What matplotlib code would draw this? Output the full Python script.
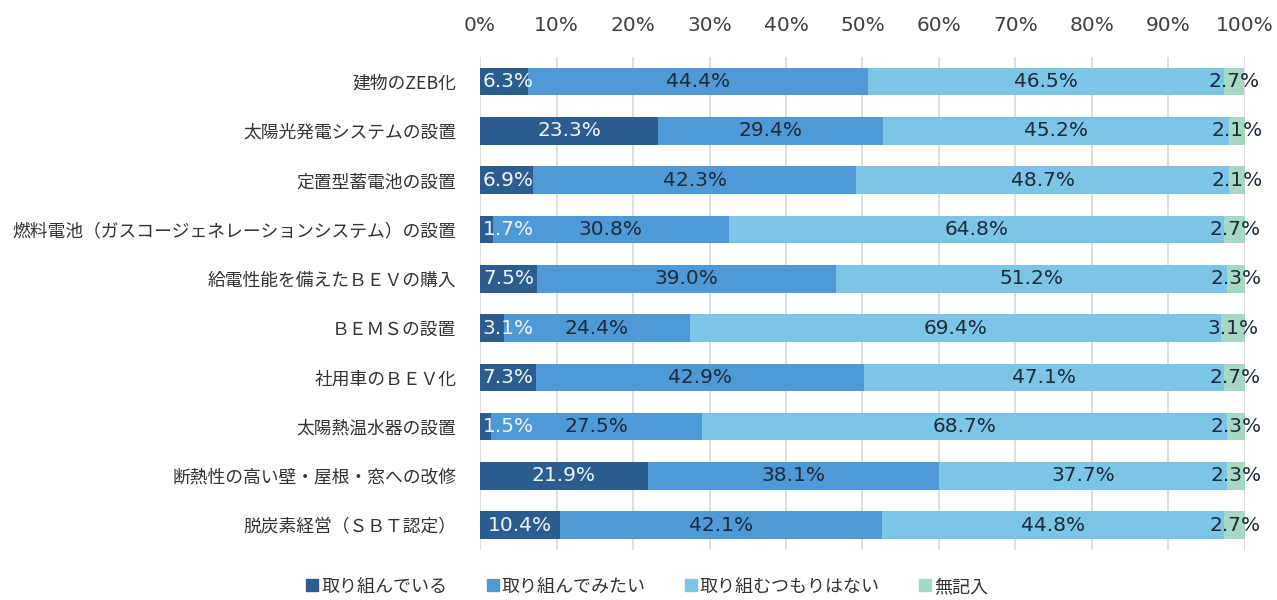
import matplotlib
matplotlib.use("Agg")
import matplotlib.pyplot as plt
from matplotlib.lines import Line2D

plt.rcParams['font.family'] = ['Noto Sans CJK JP', 'DejaVu Sans']

categories = [
    "建物のZEB化",
    "太陽光発電システムの設置",
    "定置型蓄電池の設置",
    "燃料電池（ガスコージェネレーションシステム）の設置",
    "給電性能を備えたＢＥＶの購入",
    "ＢＥＭＳの設置",
    "社用車のＢＥＶ化",
    "太陽熱温水器の設置",
    "断熱性の高い壁・屋根・窓への改修",
    "脱炭素経営（ＳＢＴ認定）",
]
series_names = ["取り組んでいる", "取り組んでみたい", "取り組むつもりはない", "無記入"]
doing = [6.3, 23.3, 6.9, 1.7, 7.5, 3.1, 7.3, 1.5, 21.9, 10.4]
want = [44.4, 29.4, 42.3, 30.8, 39.0, 24.4, 42.9, 27.5, 38.1, 42.1]
no_plan = [46.5, 45.2, 48.7, 64.8, 51.2, 69.4, 47.1, 68.7, 37.7, 44.8]
blank = [2.7, 2.1, 2.1, 2.7, 2.3, 3.1, 2.7, 2.3, 2.3, 2.7]
xticks = list(range(0, 101, 10))
xtick_labels = [f"{t}%" for t in xticks]

colors = ["#2C5D8F", "#4F9AD6", "#7CC5E6", "#A6D8C4"]
label_colors = ["#EEF4FA", "#1C2B3C", "#1C2B3C", "#1C2B3C"]
num_font = ['DejaVu Sans']

fig = plt.figure(figsize=(12.77, 6.0), dpi=100)
ax = fig.add_axes([0.3759, 0.0835, 0.599, 0.8215])

ys = list(range(len(categories)))
left = [0.0] * len(categories)
for si, vals in enumerate([doing, want, no_plan, blank]):
    ax.barh(ys, vals, left=left, height=0.56, color=colors[si], zorder=2)
    for i, v in enumerate(vals):
        txt = f"{v:.1f}%"
        cx = left[i] + v / 2
        ha = 'center'
        if si == 0 and v / 2 < 3.5:
            cx = 0.3
            ha = 'left'
        ax.text(cx, i, txt, ha=ha, va='center', fontsize=14.5, family=num_font,
                color=label_colors[si], zorder=3, clip_on=False)
    left = [l + v for l, v in zip(left, vals)]

ax.set_xlim(0, 100)
ax.set_ylim(len(categories) - 0.5, -0.5)
ax.set_yticks(ys)
ax.set_yticklabels(categories, fontsize=12.8, color="#333333")
ax.set_xticks(xticks)
ax.set_xticklabels(xtick_labels, fontsize=14.5, color="#404040", family=num_font)
ax.xaxis.tick_top()
ax.tick_params(axis='x', length=0, pad=16)
ax.tick_params(axis='y', length=0, pad=17)
ax.grid(axis='x', color="#D9D9D9", linewidth=1.2, zorder=0)
ax.set_axisbelow(True)
for s in ax.spines.values():
    s.set_visible(False)

handles = [Line2D([0], [0], marker='s', linestyle='none', markersize=8,
                  markerfacecolor=c, markeredgecolor=c) for c in colors]
fig.legend(handles, series_names, loc='center', bbox_to_anchor=(0.507, 0.022),
           ncol=4, frameon=False, fontsize=13, handlelength=0.6,
           handletextpad=0.2, columnspacing=2.2, labelcolor="#333333")

fig.savefig("out.png", dpi=100)
